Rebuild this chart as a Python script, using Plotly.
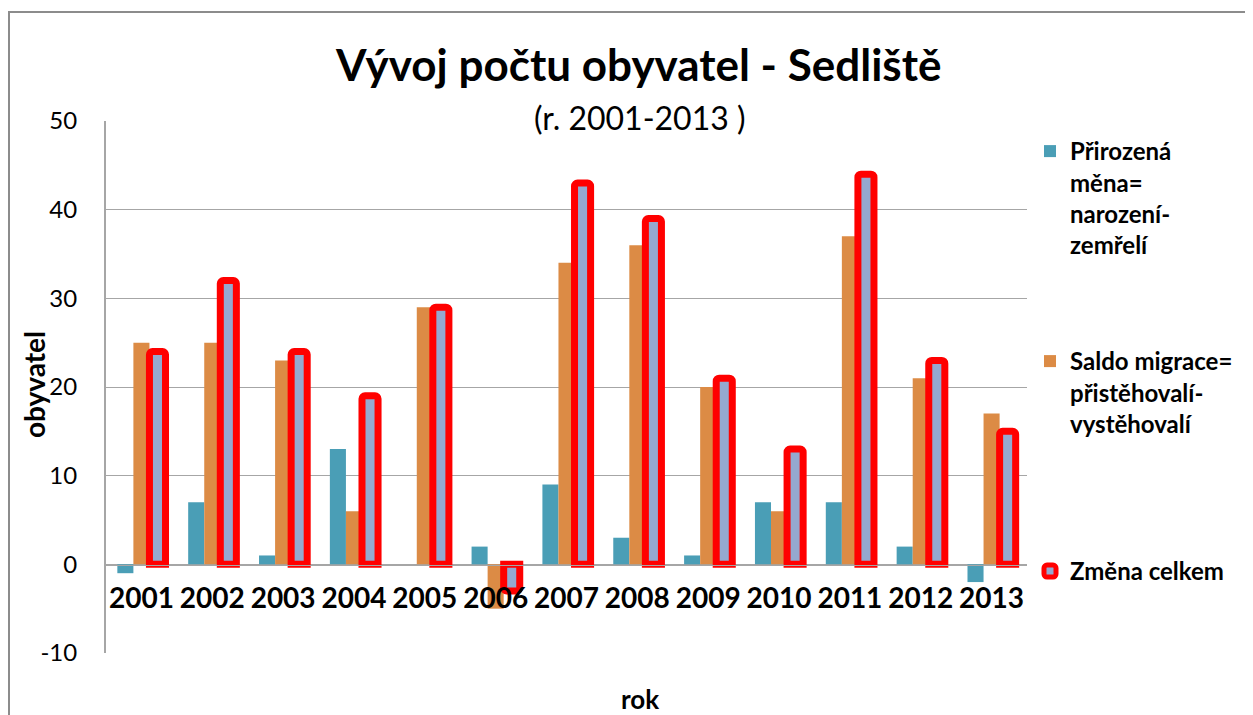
import plotly.graph_objects as go

years = ["2001", "2002", "2003", "2004", "2005", "2006", "2007",
         "2008", "2009", "2010", "2011", "2012", "2013"]
prirozena = [-1, 7, 1, 13, 0, 2, 9, 3, 1, 7, 7, 2, -2]
saldo = [25, 25, 23, 6, 29, -5, 34, 36, 20, 6, 37, 21, 17]
zmena = [24, 32, 24, 19, 29, -3, 43, 39, 21, 13, 44, 23, 15]

y_ticks = [-10, 0, 10, 20, 30, 40, 50]
y_labels = ["-10", "0", "10", "20", "30", "40", "50"]

names = ["Přirozená<br>měna=<br>narození-<br>zemřelí",
         "Saldo migrace=<br>přistěhovalí-<br>vystěhovalí",
         "Změna celkem"]

FONT = "Lato"
W, H = 1253, 715
OFF = 8  # page body margin offset
L, R, T, B = 106 - OFF, 1027 - OFF, 121 - OFF, 653 - OFF
pw, ph = R - L, B - T

def px_x(x):
    return (x - OFF - L) / pw

def px_y(y):
    return (B - (y - OFF)) / ph

fig = go.Figure()
fig.add_trace(go.Bar(x=years, y=prirozena, name=names[0],
                     marker=dict(color="#4A9EB6", line=dict(width=0)),
                     legend="legend"))
fig.add_trace(go.Bar(x=years, y=saldo, name=names[1],
                     marker=dict(color="#DC8B45", line=dict(width=0)),
                     legend="legend2"))
fig.add_trace(go.Bar(x=years, y=zmena, name=names[2],
                     marker=dict(color="#95A9D0", line=dict(color="#FF0000", width=7),
                                 cornerradius=3),
                     legend="legend3"))

leg_common = dict(x=px_x(1030), xanchor="left", yanchor="top",
                  font=dict(family=FONT, size=24, color="#000000", weight="bold"),
                  itemwidth=30, valign="top", bgcolor="rgba(0,0,0,0)")

fig.update_layout(
    width=W, height=H,
    margin=dict(l=L, r=W - R, t=T, b=H - B, autoexpand=False),
    paper_bgcolor="white", plot_bgcolor="white",
    barmode="group", bargap=0.32, bargroupgap=0,
    showlegend=True,
    legend=dict(y=px_y(129), **leg_common),
    legend2=dict(y=px_y(339), **leg_common),
    legend3=dict(y=px_y(549), **leg_common),
    font=dict(family=FONT, color="#000000"),
    xaxis=dict(type="category", anchor="free", position=px_y(565),
               showline=True, linecolor="#A6A6A6", linewidth=1,
               ticks="", showgrid=False, automargin=False,
               tickfont=dict(family=FONT, size=28, color="#000000", weight="bold"),
               ticklabelstandoff=8),
    yaxis=dict(range=[-10, 50], tickvals=y_ticks, ticktext=y_labels,
               showgrid=True, gridcolor="#A6A6A6",
               gridwidth=1, zeroline=True, zerolinecolor="#A6A6A6", zerolinewidth=1,
               showline=True, linecolor="#A6A6A6", linewidth=2, ticks="",
               automargin=False,
               tickfont=dict(family=FONT, size=24, color="#000000"),
               ticklabelstandoff=22),
    shapes=[dict(type="rect", xref="paper", yref="paper",
                 x0=px_x(9), x1=1.4, y0=-0.4, y1=px_y(12),
                 line=dict(color="#8C8C8C", width=2), fillcolor="rgba(0,0,0,0)")],
    annotations=[
        dict(text="<b>Vývoj počtu obyvatel - Sedliště</b>", xref="paper", yref="paper",
             x=px_x(638), y=px_y(64), xanchor="center", yanchor="middle",
             showarrow=False, font=dict(family=FONT, size=44, color="#000000")),
        dict(text="(r. 2001-2013 )", xref="paper", yref="paper",
             x=px_x(640), y=px_y(118), xanchor="center", yanchor="middle",
             showarrow=False, font=dict(family=FONT, size=32, color="#000000")),
        dict(text="<b>obyvatel</b>", xref="paper", yref="paper",
             x=px_x(34), y=px_y(385), xanchor="center", yanchor="middle", textangle=-90,
             showarrow=False, font=dict(family=FONT, size=28, color="#000000")),
        dict(text="<b>rok</b>", xref="paper", yref="paper",
             x=px_x(640), y=px_y(699), xanchor="center", yanchor="middle",
             showarrow=False, font=dict(family=FONT, size=26, color="#000000")),
    ],
)

fig.write_html("out.html")
